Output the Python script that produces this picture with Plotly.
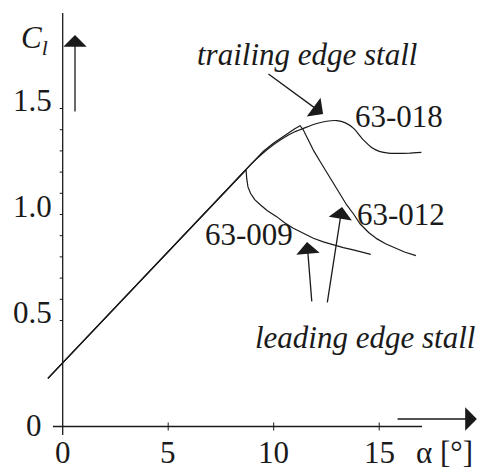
import plotly.graph_objects as go

# Lift coefficient vs. angle of attack for three NACA 63-series sections
alpha_009 = [-0.7, 8.0, 8.69, 8.72, 8.78, 8.9, 9.1, 9.35, 9.7, 10.14, 10.5, 10.93, 11.4, 11.88, 12.35, 12.82, 13.3, 13.77, 14.2, 14.6]
cl_009 = [0.227, 1.14, 1.211, 1.17, 1.13, 1.10, 1.07, 1.047, 1.018, 0.99, 0.962, 0.935, 0.91, 0.888, 0.871, 0.856, 0.844, 0.833, 0.822, 0.812]

alpha_012 = [-0.7, 8.0, 9.0, 9.5, 10.0, 10.5, 11.0, 11.25, 11.4, 11.6, 11.9, 12.2, 12.5, 12.8, 13.1, 13.46, 13.8, 14.1, 14.5, 14.9, 15.3, 15.7, 16.2, 16.74]
cl_012 = [0.227, 1.14, 1.245, 1.297, 1.337, 1.373, 1.405, 1.419, 1.40, 1.36, 1.30, 1.25, 1.20, 1.15, 1.10, 1.045, 1.0, 0.955, 0.915, 0.885, 0.862, 0.844, 0.823, 0.806]

alpha_018 = [-0.7, 8.0, 9.0, 9.5, 10.0, 10.5, 11.0, 11.5, 12.0, 12.5, 13.0, 13.4, 13.8, 14.25, 14.7, 15.0, 15.35, 15.8, 16.4, 17.0]
cl_018 = [0.227, 1.14, 1.245, 1.29, 1.33, 1.363, 1.39, 1.41, 1.428, 1.44, 1.443, 1.432, 1.405, 1.352, 1.312, 1.298, 1.291, 1.288, 1.289, 1.293]

x_ticks = [0, 5, 10, 15]
x_tick_text = ["0", "5", "10", "15"]
y_ticks = [0, 0.5, 1.0, 1.5]
y_tick_text = ["0", "0.5", "1.0", "1.5"]
y_minor = [0.5, 0.6, 0.7, 0.8, 0.9, 1.0, 1.1, 1.2, 1.3, 1.4, 1.5]

INK = "#1a1a1a"
FONT = "Liberation Serif"
FS = 31

fig = go.Figure()
for a, c, shape in [(alpha_009, cl_009, "linear"), (alpha_012, cl_012, "linear"), (alpha_018, cl_018, "spline")]:
    fig.add_trace(go.Scatter(x=a, y=c, mode="lines",
                             line=dict(color=INK, width=1.2, shape=shape, smoothing=0.6),
                             hoverinfo="skip", showlegend=False))

shapes = []
# axis lines crossing at the origin
shapes.append(dict(type="line", xref="x", yref="y", x0=0, x1=0, y0=-0.04, y1=1.95,
                   line=dict(color=INK, width=1.3)))
shapes.append(dict(type="line", xref="x", yref="y", x0=-0.46, x1=17.03, y0=0, y1=0,
                   line=dict(color=INK, width=1.3)))
for v in y_minor:
    shapes.append(dict(type="line", xref="x", yref="y", xsizemode="pixel", xanchor=0,
                       x0=-3, x1=0, y0=v, y1=v, line=dict(color=INK, width=1)))
for v in x_ticks[1:]:
    shapes.append(dict(type="line", xref="x", yref="y", ysizemode="pixel", yanchor=0,
                       x0=v, x1=v, y0=-4, y1=4, line=dict(color=INK, width=1)))

ann = []
for v, t in zip(x_ticks, x_tick_text):
    ann.append(dict(x=v, y=0, xref="x", yref="y", text=t, showarrow=False,
                    xanchor="center", yanchor="middle", yshift=-26,
                    font=dict(family=FONT, size=FS, color=INK)))
for v, t in zip(y_ticks, y_tick_text):
    origin = v == 0
    ann.append(dict(x=0, y=v, xref="x", yref="y", text=t, showarrow=False,
                    xanchor="right", yanchor="middle",
                    xshift=-19 if origin else -9, yshift=1 if origin else 8,
                    font=dict(family=FONT, size=FS, color=INK)))

def arrow(x_tip, y_tip, x_tail, y_tail):
    return dict(x=x_tip, y=y_tip, ax=x_tail, ay=y_tail, xref="x", yref="y",
                axref="x", ayref="y", text="", showarrow=True, arrowhead=1,
                arrowsize=3, arrowwidth=1.3, arrowcolor=INK)

# axis direction arrows
ann.append(arrow(0.583, 1.847, 0.583, 1.479))
ann.append(arrow(19.63, 0.0354, 15.80, 0.0354))
# stall pointers
ann.append(arrow(12.34, 1.474, 9.68, 1.668))
ann.append(arrow(11.58, 0.870, 11.81, 0.583))
ann.append(arrow(13.24, 1.035, 12.53, 0.578))

def label(x, y, text, italic=False, anchor="center"):
    return dict(x=x, y=y, xref="x", yref="y", showarrow=False, xanchor=anchor, yanchor="middle",
                text=f"<i>{text}</i>" if italic else text,
                font=dict(family=FONT, size=FS, color=INK))

ann.append(label(11.58, 1.754, "trailing edge stall", italic=True))
ann.append(label(15.94, 1.46, "63-018"))
ann.append(label(16.04, 1.0, "63-012"))
ann.append(label(8.83, 0.906, "63-009"))
ann.append(label(14.33, 0.418, "leading edge stall", italic=True))
ann.append(label(-1.36, 1.823, "<i>C</i><sub><i>l</i></sub>"))
ann.append(label(18.1, -0.122, "α [°]"))

fig.update_layout(
    width=480, height=469, margin=dict(l=0, r=0, t=0, b=0),
    paper_bgcolor="white", plot_bgcolor="white",
    font=dict(family=FONT, color=INK),
    xaxis=dict(range=[-2.9716, 19.777], visible=False, fixedrange=True),
    yaxis=dict(range=[-0.2005, 2.0118], visible=False, fixedrange=True),
    shapes=shapes, annotations=ann,
)

fig.write_html("out.html")
